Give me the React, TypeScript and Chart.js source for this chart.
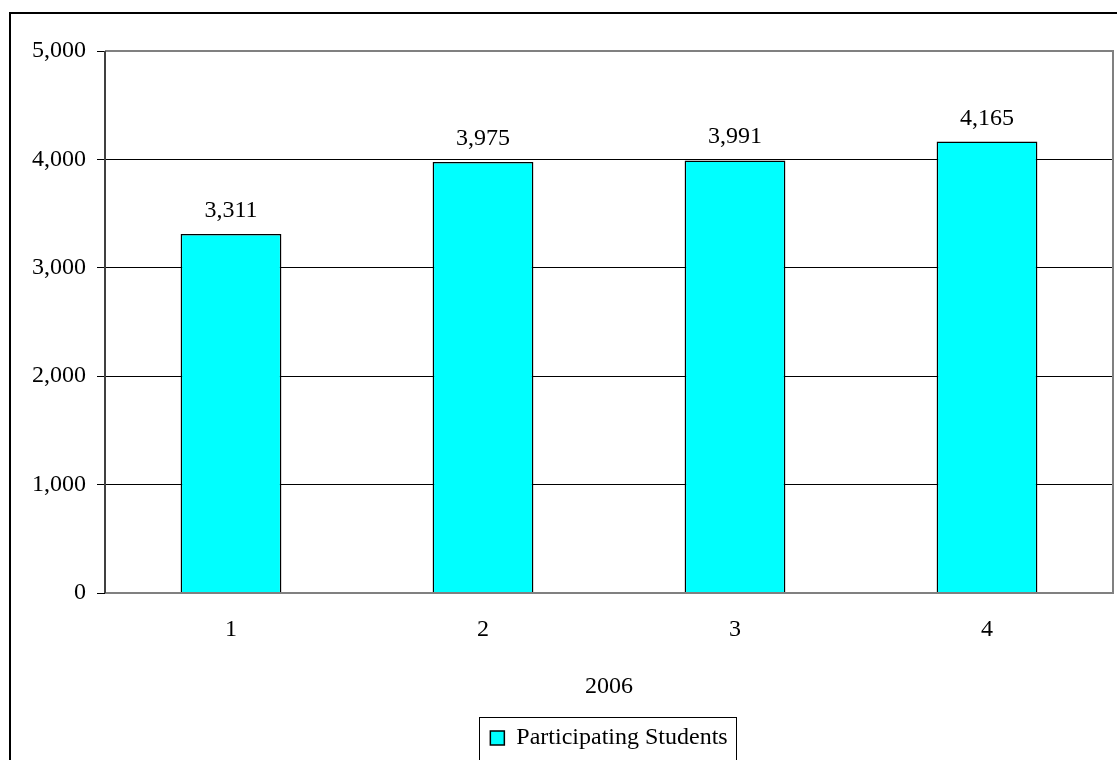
import React, { useEffect, useRef } from "react";
import { Chart, registerables } from "chart.js";

Chart.register(...registerables);

const categories = ["1", "2", "3", "4"];
const participatingStudents = [3311, 3975, 3991, 4165];
const yMin = 0;
const yMax = 5000;
const yStep = 1000;
const seriesLabel = "Participating Students";
const xAxisTitle = "2006";

const FONT = "'Liberation Serif', 'Times New Roman', serif";

export default function App() {
  const ref = useRef<HTMLCanvasElement>(null);

  useEffect(() => {
    const canvas = ref.current!;

    const frame = {
      id: "frame",
      afterDatasetsDraw(chart: any) {
        const { ctx, chartArea } = chart;
        const { left, top, right, bottom } = chartArea;
        ctx.save();
        ctx.strokeStyle = "#808080";
        ctx.lineWidth = 2;
        ctx.beginPath();
        ctx.moveTo(left, top);
        ctx.lineTo(right, top);
        ctx.lineTo(right, bottom);
        ctx.lineTo(left, bottom);
        ctx.stroke();
        ctx.strokeStyle = "#404040";
        ctx.beginPath();
        ctx.moveTo(left, top);
        ctx.lineTo(left, bottom);
        ctx.stroke();
        ctx.restore();
      },
    };

    const dataLabels = {
      id: "dataLabels",
      afterDatasetsDraw(chart: any) {
        const ctx = chart.ctx;
        const meta = chart.getDatasetMeta(0);
        const values = chart.data.datasets[0].data as number[];
        ctx.save();
        ctx.font = `24px ${FONT}`;
        ctx.fillStyle = "#000";
        ctx.textAlign = "center";
        ctx.textBaseline = "alphabetic";
        meta.data.forEach((el: any, i: number) => {
          ctx.fillText(values[i].toLocaleString("en-US"), el.x, el.y - 17);
        });
        ctx.restore();
      },
    };

    const legendBox = {
      id: "legendBox",
      afterDraw(chart: any) {
        const lg = chart.legend;
        if (!lg || !lg.legendHitBoxes || !lg.legendHitBoxes.length) return;
        const hb = lg.legendHitBoxes[0];
        const ctx = chart.ctx;
        ctx.save();
        ctx.strokeStyle = "#000";
        ctx.lineWidth = 1;
        ctx.strokeRect(
          Math.round(hb.left - 11) + 0.5,
          Math.round(hb.top - 9) + 0.5,
          Math.round(hb.width + 20),
          120
        );
        ctx.restore();
      },
    };

    const chart = new Chart(canvas, {
      type: "bar",
      data: {
        labels: categories,
        datasets: [
          {
            label: seriesLabel,
            data: participatingStudents,
            backgroundColor: "#00FFFF",
            borderColor: "#000000",
            borderWidth: 1.5,
            barPercentage: 0.4,
            categoryPercentage: 1.0,
          },
        ],
      },
      options: {
        responsive: false,
        animation: false,
        events: [],
        layout: { padding: { left: 0, right: 4, top: 51, bottom: 0 } },
        font: { family: FONT, size: 24 },
        color: "#000",
        plugins: {
          tooltip: { enabled: false },
          title: { display: false },
          legend: {
            display: true,
            position: "bottom",
            fullSize: false,
            labels: {
              color: "#000",
              font: { family: FONT, size: 24 },
              boxWidth: 14,
              boxHeight: 14,
              padding: 10,
            },
          },
        },
        scales: {
          x: {
            afterFit: (scale: any) => {
              scale.height = 123;
            },
            grid: { display: false, drawTicks: false },
            border: { display: false },
            ticks: {
              color: "#000",
              font: { family: FONT, size: 24 },
              padding: 22,
              maxRotation: 0,
            },
            title: {
              display: true,
              text: xAxisTitle,
              color: "#000",
              font: { family: FONT, size: 24 },
              padding: { top: 0, bottom: 15 },
            },
          },
          y: {
            min: yMin,
            max: yMax,
            afterFit: (scale: any) => {
              scale.width = 105;
            },
            grid: {
              color: "#000",
              lineWidth: 1,
              drawTicks: true,
              tickLength: 8,
              tickColor: "#000",
            },
            border: { display: false },
            ticks: {
              stepSize: yStep,
              color: "#000",
              font: { family: FONT, size: 24 },
              padding: 11,
              callback: (v: any) => Number(v).toLocaleString("en-US"),
            },
          },
        },
      },
      plugins: [frame, dataLabels, legendBox],
    });

    return () => chart.destroy();
  }, []);

  return (
    <div
      style={{
        position: "fixed",
        left: 0,
        top: 0,
        width: 1117,
        height: 760,
        overflow: "hidden",
        background: "#fff",
      }}
    >
      <div
        style={{
          position: "absolute",
          left: 9,
          top: 12,
          width: 1130,
          height: 800,
          border: "2px solid #000",
          boxSizing: "border-box",
        }}
      />
      <canvas
        ref={ref}
        width={1117}
        height={760}
        style={{ position: "absolute", left: 0, top: 0, width: 1117, height: 760 }}
      />
    </div>
  );
}
